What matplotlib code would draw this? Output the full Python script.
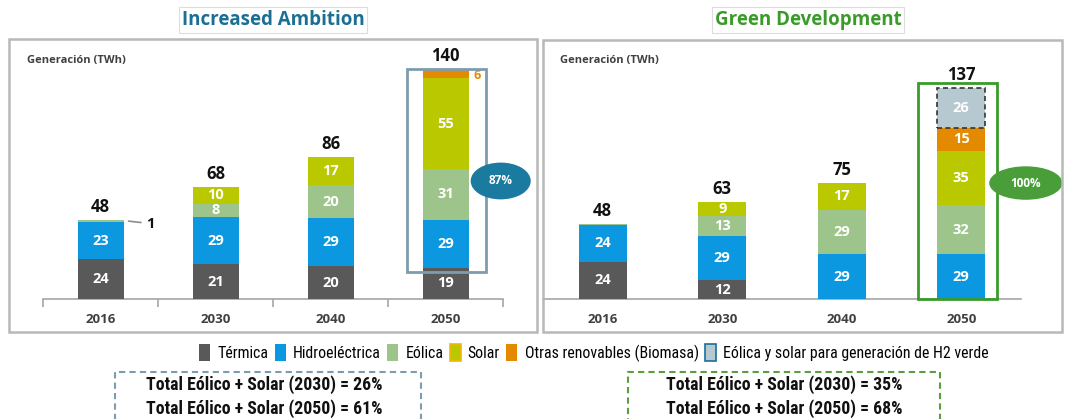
import matplotlib
matplotlib.use("Agg")
import matplotlib.pyplot as plt
from matplotlib.patches import Rectangle, Ellipse, Patch
import matplotlib.font_manager as fm
import numpy as np
import os

W, H = 1065, 419
fig = plt.figure(figsize=(W / 100, H / 100), dpi=100)

MAIN = ['Open Sans', 'DejaVu Sans']
plt.rcParams['font.family'] = MAIN

# ---------------- data ----------------
years = ['2016', '2030', '2040', '2050']
series = ['Térmica', 'Hidroeléctrica', 'Eólica', 'Solar', 'Otras renovables (Biomasa)',
          'Eólica y solar para generación de H2 verde']
colors = ['#595959', '#0b98e0', '#9dc48a', '#bac800', '#e38a00', '#b6c9d1']

ia_termica = [24, 21, 20, 19]
ia_hidro = [23, 29, 29, 29]
ia_eolica = [1, 8, 20, 31]
ia_solar = [0, 10, 17, 55]
ia_otras = [0, 0, 0, 6]
ia_h2 = [0, 0, 0, 0]
ia_totals = [48, 68, 86, 140]

gd_termica = [24, 12, 0, 0]
gd_hidro = [24, 29, 29, 29]
gd_eolica = [0.5, 13, 29, 32]
gd_solar = [0, 9, 17, 35]
gd_otras = [0, 0, 0, 15]
gd_h2 = [0, 0, 0, 26]
gd_totals = [48, 63, 75, 137]

titles = ['Increased Ambition', 'Green Development']
title_colors = ['#1b6f94', '#3a9a2a']
highlight_pct = ['87%', '100%']
summary_ia = ['Total Eólico + Solar (2030) = 26%', 'Total Eólico + Solar (2050) = 61%']
summary_gd = ['Total Eólico + Solar (2030) = 35%', 'Total Eólico + Solar (2050) = 68%']


# ---------------- narrow font lookup ----------------
def find_narrow():
    reg, bold = {}, {}
    for f in fm.fontManager.ttflist:
        b = os.path.basename(f.fname).lower()
        if not ('narrow' in b or 'condensed' in b):
            continue
        if any(k in b for k in ['mono', 'serif', 'italic', 'oblique', 'light', 'thin',
                                'black', 'medium', 'semi', 'extra', 'ultra']):
            continue
        key = b.split('-')[0].replace('condensed', '').replace('narrow', '')
        if 'bold' in b:
            bold[key] = f.fname
        else:
            reg[key] = f.fname
    for pref in ['liberationsans', 'dejavusans', 'notosans', 'roboto', 'opensans', 'lato']:
        for k in reg:
            if k.startswith(pref) and k in bold:
                return reg[k], bold[k]
    for k in reg:
        if k in bold:
            return reg[k], bold[k]
    return None, None


nreg, nbold = find_narrow()
if nreg:
    def NF(size, weight='normal'):
        return fm.FontProperties(fname=nbold if weight == 'bold' else nreg, size=size)
    scale = 1.0
else:
    def NF(size, weight='normal'):
        return fm.FontProperties(family=['Liberation Sans', 'DejaVu Sans'], weight=weight,
                                 size=size)
    scale = 0.8


def fx(px):
    return px / W


def fy(py):
    return 1 - py / H


def add_frame(x0, y0, x1, y1, **kw):
    r = Rectangle((fx(x0), fy(y1)), fx(x1) - fx(x0), fy(y0) - fy(y1),
                  transform=fig.transFigure, fill=False, **kw)
    fig.add_artist(r)
    return r


# panel frames
add_frame(9, 39, 537, 332, edgecolor='#b8b8b8', lw=1.8)
add_frame(543, 40, 1062, 332, edgecolor='#b8b8b8', lw=1.8)

# titles
fig.text(fx(273), fy(20), titles[0], color=title_colors[0], fontsize=13.5, fontweight='bold',
         ha='center', va='center', family=MAIN,
         bbox=dict(boxstyle='square,pad=0.15', fc='white', ec='#dddddd', lw=0.8))
fig.text(fx(808), fy(20), titles[1], color=title_colors[1], fontsize=13.5, fontweight='bold',
         ha='center', va='center', family=MAIN,
         bbox=dict(boxstyle='square,pad=0.15', fc='white', ec='#dddddd', lw=0.8))


def make_axes(x0, x1, base, top, pxunit):
    ax = fig.add_axes([fx(x0), fy(base), fx(x1) - fx(x0), fy(top) - fy(base)])
    ax.set_xlim(-0.5, 3.5)
    ax.set_ylim(0, (base - top) / pxunit)
    ax.patch.set_alpha(0)
    for s in ['top', 'right', 'left']:
        ax.spines[s].set_visible(False)
    ax.spines['bottom'].set_color('#a6a6a6')
    ax.spines['bottom'].set_linewidth(1.2)
    ax.set_yticks([])
    return ax


ax1 = make_axes(43, 503, 299, 55, 1.646)
ax2 = make_axes(543, 1021, 299, 55, 1.542)

x = np.arange(len(years))
bw = 0.4


def draw_stack(ax, stack, totals):
    bottom = np.zeros(len(years))
    for i, vals in enumerate(stack):
        vals = np.array(vals, dtype=float)
        m = vals > 0
        if i == 5:
            ax.bar(x[m], vals[m], bw, bottom=bottom[m], color=colors[i], edgecolor='#333333',
                   linestyle=(0, (3, 2)), linewidth=1.2, zorder=3)
        else:
            ax.bar(x[m], vals[m], bw, bottom=bottom[m], color=colors[i], linewidth=0, zorder=3)
        for j, v in enumerate(vals):
            if v >= 8:
                ax.text(x[j], bottom[j] + v / 2, f'{v:.0f}', color='white', fontsize=10.5,
                        fontweight='bold', ha='center', va='center', zorder=5)
        bottom += vals
    for j, t in enumerate(totals):
        ax.annotate(f'{t}', (x[j], bottom[j]), xytext=(0, 8), textcoords='offset pixels',
                    ha='center', va='baseline', fontsize=12, fontweight='bold', color='#111111')
    return bottom


stack1 = [ia_termica, ia_hidro, ia_eolica, ia_solar, ia_otras, ia_h2]
stack2 = [gd_termica, gd_hidro, gd_eolica, gd_solar, gd_otras, gd_h2]
top1 = draw_stack(ax1, stack1, ia_totals)
top2 = draw_stack(ax2, stack2, gd_totals)

# small outside labels on the left panel
ax1.annotate(f'{ia_eolica[0]}', xy=(x[0] + bw / 2 + 0.02, top1[0] - 0.5),
             xytext=(x[0] + 0.40, top1[0] - 2.2), fontsize=10.5, fontweight='bold',
             color='#111111', ha='left', va='center',
             arrowprops=dict(arrowstyle='-', color='#8c8c8c', lw=1.2))
ax1.text(x[3] + bw / 2 + 0.04, top1[3] - ia_otras[3] / 2 - 1, f'{ia_otras[3]}', color='#e38a00',
         fontsize=9, fontweight='bold', ha='left', va='center')

# x tick labels
for ax, ticks in [(ax1, True), (ax2, False)]:
    ax.set_xticks(x)
    ax.set_xticklabels(years, fontsize=9.5, fontweight='bold', color='#404040')
    ax.tick_params(axis='x', length=0, pad=10)
    if ticks:
        ax.set_xticks(np.arange(-0.5, 4, 1.0), minor=True)
        ax.tick_params(axis='x', which='minor', length=6, color='#a6a6a6', width=1.2,
                       direction='out')

# highlight boxes
ax1.add_patch(Rectangle((x[3] - 0.335, 16.4), 0.685, 140 - 16.4, fill=False,
                        edgecolor='#7d9cad', lw=2, zorder=4, clip_on=False))
ax2.add_patch(Rectangle((x[3] - 0.36, 0), 0.66, 140, fill=False,
                        edgecolor='#3a9a2a', lw=2, zorder=4, clip_on=False))

# percentage ellipses
ax1.add_patch(Ellipse((x[3] + 0.48, 71.7), 0.51, 21.5, color='#1a7a9f', zorder=6, clip_on=False))
ax1.text(x[3] + 0.48, 71.7, highlight_pct[0], color='white', fontsize=8.5, fontweight='bold',
         ha='center', va='center', zorder=7)
ax2.add_patch(Ellipse((x[3] + 0.54, 75.2), 0.6, 20.8, color='#4a9e3a', zorder=6, clip_on=False))
ax2.text(x[3] + 0.54, 75.2, highlight_pct[1], color='white', fontsize=8.5, fontweight='bold',
         ha='center', va='center', zorder=7)

# y-label texts
fig.text(fx(27), fy(60), 'Generación (TWh)', fontsize=8, fontweight='bold', color='#404040',
         ha='left', va='center')
fig.text(fx(560), fy(60), 'Generación (TWh)', fontsize=8, fontweight='bold', color='#404040',
         ha='left', va='center')

# legend
handles = []
for i, (s, c) in enumerate(zip(series, colors)):
    if i == 3:
        handles.append(Patch(facecolor=c, edgecolor='#f0b800', lw=1.2, label=s))
    elif i == 5:
        handles.append(Patch(facecolor=c, edgecolor='#1a6e9a', lw=1.2, label=s))
    else:
        handles.append(Patch(facecolor=c, edgecolor='none', label=s))
fig.legend(handles=handles, loc='center', bbox_to_anchor=(fx(594), fy(353)), ncol=6,
           frameon=False, handlelength=0.7, handleheight=1.25, handletextpad=0.45,
           columnspacing=0.4, prop=NF(11.4 * scale))

# summary boxes
add_frame(115, 372, 421, 425, edgecolor='#7d9cad', lw=1.5, linestyle=(0, (3, 2)))
add_frame(628, 372, 940, 425, edgecolor='#5a9e40', lw=1.5, linestyle=(0, (3, 2)))
for k, (a, b) in enumerate(zip(summary_ia, summary_gd)):
    yy = [385, 409][k]
    fig.text(fx(264), fy(yy), a, fontproperties=NF(12.8 * scale, 'bold'), ha='center',
             va='center', color='#111111')
    fig.text(fx(784), fy(yy), b, fontproperties=NF(12.8 * scale, 'bold'), ha='center',
             va='center', color='#111111')

fig.savefig('out.png', dpi=100)
